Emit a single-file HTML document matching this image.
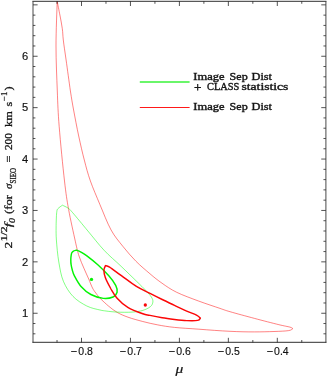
<!DOCTYPE html>
<html><head><meta charset="utf-8"><style>
html,body{margin:0;padding:0;background:#fff}
body{width:327px;height:377px;overflow:hidden}
svg{display:block;position:absolute;left:0;top:0;will-change:transform}
text{font-family:"Liberation Serif",serif;fill:#151515;white-space:pre}
.tk{font-family:"Liberation Sans",sans-serif;font-size:10.4px;fill:#111;stroke:#111;stroke-width:.15px}
.lg{font-size:11px;stroke:#151515;stroke-width:.4px}
.r{font-size:10.5px;stroke:#151515;stroke-width:.3px}
.it{font-size:10.5px;font-style:italic;stroke:#151515;stroke-width:.3px}
.sp{font-size:8.4px;stroke:#151515;stroke-width:.25px}
.sb{font-size:7.2px;stroke:#151515;stroke-width:.25px}
.sbi{font-size:7.4px;font-style:italic;stroke:#151515;stroke-width:.25px}
.mu{font-size:12.5px;font-style:italic;stroke:#151515;stroke-width:.2px}
</style></head><body>
<svg width="327" height="377" viewBox="0 0 327 377" fill="none">
<rect width="327" height="377" fill="#fff"/>
<path d="M57.2 1.5 C57.7 3.8 59.0 10.5 59.9 15.0 C60.8 19.5 61.7 24.5 62.3 28.7 C62.9 32.9 62.7 34.8 63.3 40.0 C63.9 45.2 64.9 51.5 66.1 60.0 C67.3 68.5 69.2 82.7 70.4 91.0 C71.7 99.3 72.2 102.5 73.6 110.0 C75.0 117.5 76.9 127.7 78.7 136.0 C80.5 144.3 82.3 152.5 84.3 160.0 C86.2 167.5 87.8 173.6 90.4 181.0 C93.0 188.4 96.5 196.3 99.9 204.5 C103.4 212.7 107.2 223.0 111.1 230.0 C114.9 237.0 118.9 241.3 123.0 246.5 C127.1 251.7 131.4 256.6 135.9 261.2 C140.4 265.8 145.7 270.1 150.0 273.8 C154.3 277.5 157.6 280.1 162.0 283.2 C166.4 286.3 170.6 289.3 176.7 292.3 C182.8 295.3 191.3 298.3 198.5 301.0 C205.7 303.7 214.8 306.6 220.0 308.4 C225.2 310.2 224.2 310.0 230.0 311.7 C235.8 313.4 246.3 316.2 254.5 318.4 C262.6 320.6 273.0 323.2 278.9 324.7 C284.8 326.1 287.6 326.5 289.9 327.1 C292.2 327.8 292.4 328.4 292.9 328.6 C292.2 328.9 291.8 330.1 288.7 330.6 C285.6 331.1 279.7 331.3 274.0 331.5 C268.3 331.7 261.8 331.9 254.5 331.9 C247.2 331.9 239.3 331.8 230.0 331.3 C220.7 330.9 208.2 329.9 198.9 329.2 C189.7 328.5 181.3 328.1 174.5 327.4 C167.7 326.7 163.1 325.9 157.8 324.9 C152.5 323.9 147.8 322.8 142.8 321.5 C137.8 320.2 132.2 318.7 128.0 317.2 C123.8 315.7 120.6 314.3 117.4 312.5 C114.2 310.7 111.7 308.7 108.8 306.3 C105.9 303.9 102.4 300.6 100.2 298.4 C98.0 296.2 97.1 294.7 95.8 293.0 C94.5 291.3 93.7 290.3 92.5 288.0 C91.3 285.7 90.2 282.5 88.8 279.2 C87.4 275.9 85.5 272.1 83.9 268.2 C82.3 264.3 80.4 260.5 79.0 256.0 C77.6 251.5 77.0 249.0 75.3 241.2 C73.6 233.4 70.4 219.4 68.6 209.4 C66.8 199.4 66.1 194.8 64.5 181.0 C62.9 167.2 60.4 141.7 59.2 126.7 C58.0 111.7 57.8 104.5 57.3 91.0 C56.8 77.5 56.0 60.9 56.0 46.0 C56.0 31.1 57.0 8.9 57.2 1.5Z" stroke="#ff0000" stroke-opacity=".6" stroke-width=".82"/>
<path d="M62.4 205.2 C63.4 205.7 66.5 207.0 68.2 208.2 C69.9 209.4 69.2 208.7 72.5 212.5 C75.8 216.3 82.7 224.7 87.9 231.0 C93.2 237.3 98.5 244.3 104.0 250.2 C109.5 256.1 115.7 261.1 121.1 266.3 C126.5 271.5 132.2 277.0 136.4 281.1 C140.6 285.2 143.5 288.0 146.0 290.7 C148.5 293.4 150.2 295.2 151.4 297.1 C152.6 299.0 153.1 300.4 152.9 302.0 C152.7 303.6 152.0 305.3 150.3 306.7 C148.6 308.1 145.8 309.5 142.8 310.4 C139.8 311.3 136.4 311.8 132.1 312.1 C127.8 312.4 121.4 312.3 117.1 312.1 C112.8 311.9 108.8 311.4 106.0 311.0 C103.2 310.6 103.2 310.8 100.0 310.0 C96.8 309.2 91.3 308.3 86.8 306.0 C82.3 303.7 76.9 300.5 73.0 296.4 C69.1 292.3 65.8 287.0 63.4 281.3 C61.0 275.6 60.0 268.9 58.8 262.0 C57.6 255.1 56.8 245.7 56.4 240.0 C56.0 234.3 56.1 231.5 56.1 228.0 C56.1 224.5 56.2 221.6 56.3 219.0 C56.4 216.4 56.5 214.2 56.7 212.5 C57.0 210.8 56.8 210.0 57.8 208.8 C58.8 207.6 61.6 205.8 62.4 205.2Z" stroke="#00ff00" stroke-opacity=".6" stroke-width=".82"/>
<path d="M76.4 250.1 C77.1 250.4 78.8 250.8 80.5 251.8 C82.2 252.8 84.0 253.7 86.9 255.9 C89.8 258.1 94.2 261.5 97.8 264.8 C101.4 268.1 105.8 272.4 108.8 275.8 C111.8 279.2 114.3 282.6 115.7 285.4 C117.1 288.1 117.5 290.4 117.1 292.3 C116.6 294.2 115.3 296.0 113.0 297.0 C110.7 298.0 107.0 298.8 103.3 298.4 C99.6 298.0 94.6 296.4 90.9 294.5 C87.2 292.6 84.0 289.9 81.3 286.8 C78.5 283.7 75.9 278.6 74.4 275.8 C72.9 273.0 72.8 271.9 72.3 270.0 C71.8 268.1 71.3 266.2 71.1 264.5 C70.8 262.8 70.8 261.4 70.8 260.0 C70.8 258.6 70.9 257.1 71.1 255.9 C71.3 254.7 71.4 253.6 71.8 252.8 C72.2 252.0 72.6 251.6 73.4 251.1 C74.2 250.6 75.9 250.3 76.4 250.1Z" stroke="#04f404" stroke-width="1.45" stroke-linejoin="round"/>
<path d="M105.5 265.6 C106.2 265.9 106.9 265.4 109.6 267.1 C112.2 268.8 116.9 272.5 121.4 275.7 C125.9 278.9 131.6 283.4 136.4 286.4 C141.2 289.3 145.7 291.2 150.0 293.4 C154.3 295.6 158.1 297.5 162.2 299.5 C166.3 301.5 170.4 303.5 174.5 305.4 C178.6 307.3 183.0 309.5 186.7 311.1 C190.4 312.7 194.2 314.0 196.5 315.2 C198.8 316.4 199.8 317.6 200.4 318.1 C199.9 318.5 200.0 320.0 197.7 320.4 C195.4 320.8 190.6 320.8 186.7 320.6 C182.8 320.5 178.6 320.0 174.5 319.5 C170.4 319.0 166.3 318.5 162.2 317.8 C158.1 317.1 153.2 316.1 150.0 315.4 C146.8 314.7 146.5 315.1 142.8 313.8 C139.1 312.5 132.1 310.0 127.8 307.4 C123.5 304.8 119.9 301.3 117.1 298.2 C114.2 295.1 112.7 291.9 110.7 288.5 C108.8 285.1 106.5 280.8 105.4 277.8 C104.3 274.8 103.9 272.3 103.9 270.3 C103.9 268.3 105.2 266.4 105.5 265.6Z" stroke="#fb0606" stroke-width="1.45" stroke-linejoin="round"/>
<circle cx="91.5" cy="279.4" r="1.65" fill="#08f008"/>
<circle cx="145.3" cy="305.0" r="1.65" fill="#f80808"/>
<path d="M139.8 82H189.6" stroke="#00f000" stroke-opacity=".78" stroke-width="1.5"/>
<path d="M139.8 107.45H189.6" stroke="#ff0000" stroke-opacity=".9" stroke-width="1.1"/>
<path d="M57.02 342.40v-2.40M57.02 1.40v2.40M81.50 342.40v-4.60M81.50 1.40v4.60M105.98 342.40v-2.40M105.98 1.40v2.40M130.45 342.40v-4.60M130.45 1.40v4.60M154.93 342.40v-2.40M154.93 1.40v2.40M179.40 342.40v-4.60M179.40 1.40v4.60M203.88 342.40v-2.40M203.88 1.40v2.40M228.35 342.40v-4.60M228.35 1.40v4.60M252.83 342.40v-2.40M252.83 1.40v2.40M277.30 342.40v-4.60M277.30 1.40v4.60M301.77 342.40v-2.40M301.77 1.40v2.40M33.00 333.81h2.40M325.85 333.81h-2.40M33.00 323.53h2.40M325.85 323.53h-2.40M33.00 313.25h4.60M325.85 313.25h-4.60M33.00 302.97h2.40M325.85 302.97h-2.40M33.00 292.69h2.40M325.85 292.69h-2.40M33.00 282.41h2.40M325.85 282.41h-2.40M33.00 272.13h2.40M325.85 272.13h-2.40M33.00 261.85h4.60M325.85 261.85h-4.60M33.00 251.57h2.40M325.85 251.57h-2.40M33.00 241.29h2.40M325.85 241.29h-2.40M33.00 231.01h2.40M325.85 231.01h-2.40M33.00 220.73h2.40M325.85 220.73h-2.40M33.00 210.45h4.60M325.85 210.45h-4.60M33.00 200.17h2.40M325.85 200.17h-2.40M33.00 189.89h2.40M325.85 189.89h-2.40M33.00 179.61h2.40M325.85 179.61h-2.40M33.00 169.33h2.40M325.85 169.33h-2.40M33.00 159.05h4.60M325.85 159.05h-4.60M33.00 148.77h2.40M325.85 148.77h-2.40M33.00 138.49h2.40M325.85 138.49h-2.40M33.00 128.21h2.40M325.85 128.21h-2.40M33.00 117.93h2.40M325.85 117.93h-2.40M33.00 107.65h4.60M325.85 107.65h-4.60M33.00 97.37h2.40M325.85 97.37h-2.40M33.00 87.09h2.40M325.85 87.09h-2.40M33.00 76.81h2.40M325.85 76.81h-2.40M33.00 66.53h2.40M325.85 66.53h-2.40M33.00 56.25h4.60M325.85 56.25h-4.60M33.00 45.97h2.40M325.85 45.97h-2.40M33.00 35.69h2.40M325.85 35.69h-2.40M33.00 25.41h2.40M325.85 25.41h-2.40M33.00 15.13h2.40M325.85 15.13h-2.40M33.00 4.85h4.60M325.85 4.85h-4.60" stroke="#000" stroke-opacity=".85" stroke-width=".8"/>
<path d="M32.40 1.4H326.45M32.40 342.4H326.45" stroke="#111" stroke-opacity=".7" stroke-width="1.15"/>
<path d="M33.0 1.4V342.4M325.85 1.4V342.4" stroke="#222" stroke-opacity=".55" stroke-width="1.5"/>
<text x="70.6" y="355.0" textLength="6.4" lengthAdjust="spacingAndGlyphs" class="tk">−</text><text x="78.3" y="355.0" textLength="14.6" lengthAdjust="spacingAndGlyphs" class="tk">0.8</text><text x="119.6" y="355.0" textLength="6.4" lengthAdjust="spacingAndGlyphs" class="tk">−</text><text x="127.3" y="355.0" textLength="14.6" lengthAdjust="spacingAndGlyphs" class="tk">0.7</text><text x="168.5" y="355.0" textLength="6.4" lengthAdjust="spacingAndGlyphs" class="tk">−</text><text x="176.2" y="355.0" textLength="14.6" lengthAdjust="spacingAndGlyphs" class="tk">0.6</text><text x="217.5" y="355.0" textLength="6.4" lengthAdjust="spacingAndGlyphs" class="tk">−</text><text x="225.2" y="355.0" textLength="14.6" lengthAdjust="spacingAndGlyphs" class="tk">0.5</text><text x="266.4" y="355.0" textLength="6.4" lengthAdjust="spacingAndGlyphs" class="tk">−</text><text x="274.1" y="355.0" textLength="14.6" lengthAdjust="spacingAndGlyphs" class="tk">0.4</text>
<text x="22.0" y="316.9" textLength="6.2" lengthAdjust="spacingAndGlyphs" class="tk">1</text><text x="22.0" y="265.6" textLength="6.2" lengthAdjust="spacingAndGlyphs" class="tk">2</text><text x="22.0" y="214.1" textLength="6.2" lengthAdjust="spacingAndGlyphs" class="tk">3</text><text x="22.0" y="162.8" textLength="6.2" lengthAdjust="spacingAndGlyphs" class="tk">4</text><text x="22.0" y="111.4" textLength="6.2" lengthAdjust="spacingAndGlyphs" class="tk">5</text><text x="22.0" y="60.0" textLength="6.2" lengthAdjust="spacingAndGlyphs" class="tk">6</text>
<text x="193.3" y="79.5" textLength="31.2" lengthAdjust="spacingAndGlyphs" class="lg">Image</text><text x="229.6" y="79.5" textLength="18.1" lengthAdjust="spacingAndGlyphs" class="lg">Sep</text><text x="251.5" y="79.5" textLength="20.5" lengthAdjust="spacingAndGlyphs" class="lg">Dist</text>
<text x="194.0" y="91.5" textLength="7.4" lengthAdjust="spacingAndGlyphs" class="lg" style="font-size:13px;stroke-width:.45px">+</text><text x="207.0" y="89.9" textLength="32.3" lengthAdjust="spacingAndGlyphs" class="lg">CLASS</text><text x="241.5" y="89.9" textLength="46.9" lengthAdjust="spacingAndGlyphs" class="lg">statistics</text>
<text x="193.3" y="110.4" textLength="31.2" lengthAdjust="spacingAndGlyphs" class="lg">Image</text><text x="229.6" y="110.4" textLength="18.1" lengthAdjust="spacingAndGlyphs" class="lg">Sep</text><text x="251.5" y="110.4" textLength="20.5" lengthAdjust="spacingAndGlyphs" class="lg">Dist</text>
<text x="175.6" y="373.0" textLength="7.8" lengthAdjust="spacingAndGlyphs" class="mu">μ</text>
<g transform="translate(11.8 248) rotate(-90)"><text x="-0.4" y="0.0" textLength="6.8" lengthAdjust="spacingAndGlyphs" class="r">2</text><text x="6.8" y="-4.7" textLength="14.8" lengthAdjust="spacingAndGlyphs" class="sp">1/2</text><text x="20.8" y="0.0" textLength="4.2" lengthAdjust="spacingAndGlyphs" class="it">f</text><text x="25.0" y="3.4" textLength="4.9" lengthAdjust="spacingAndGlyphs" class="sbi">0</text><text x="34.0" y="0.0" textLength="19.0" lengthAdjust="spacingAndGlyphs" class="r">(for</text><text x="58.9" y="0.0" textLength="5.5" lengthAdjust="spacingAndGlyphs" class="it">σ</text><text x="64.6" y="4.2" textLength="15.4" lengthAdjust="spacingAndGlyphs" class="sb">SIEO</text><text x="85.6" y="0.0" textLength="6.9" lengthAdjust="spacingAndGlyphs" class="r">=</text><text x="97.9" y="0.0" textLength="16.9" lengthAdjust="spacingAndGlyphs" class="r">200</text><text x="121.0" y="0.0" textLength="15.7" lengthAdjust="spacingAndGlyphs" class="r">km</text><text x="141.6" y="0.0" textLength="4.7" lengthAdjust="spacingAndGlyphs" class="r">s</text><text x="147.1" y="-4.7" textLength="9.5" lengthAdjust="spacingAndGlyphs" class="sp">−1</text><text x="157.4" y="0.0" textLength="4.0" lengthAdjust="spacingAndGlyphs" class="r">)</text></g>
</svg>
</body></html>
